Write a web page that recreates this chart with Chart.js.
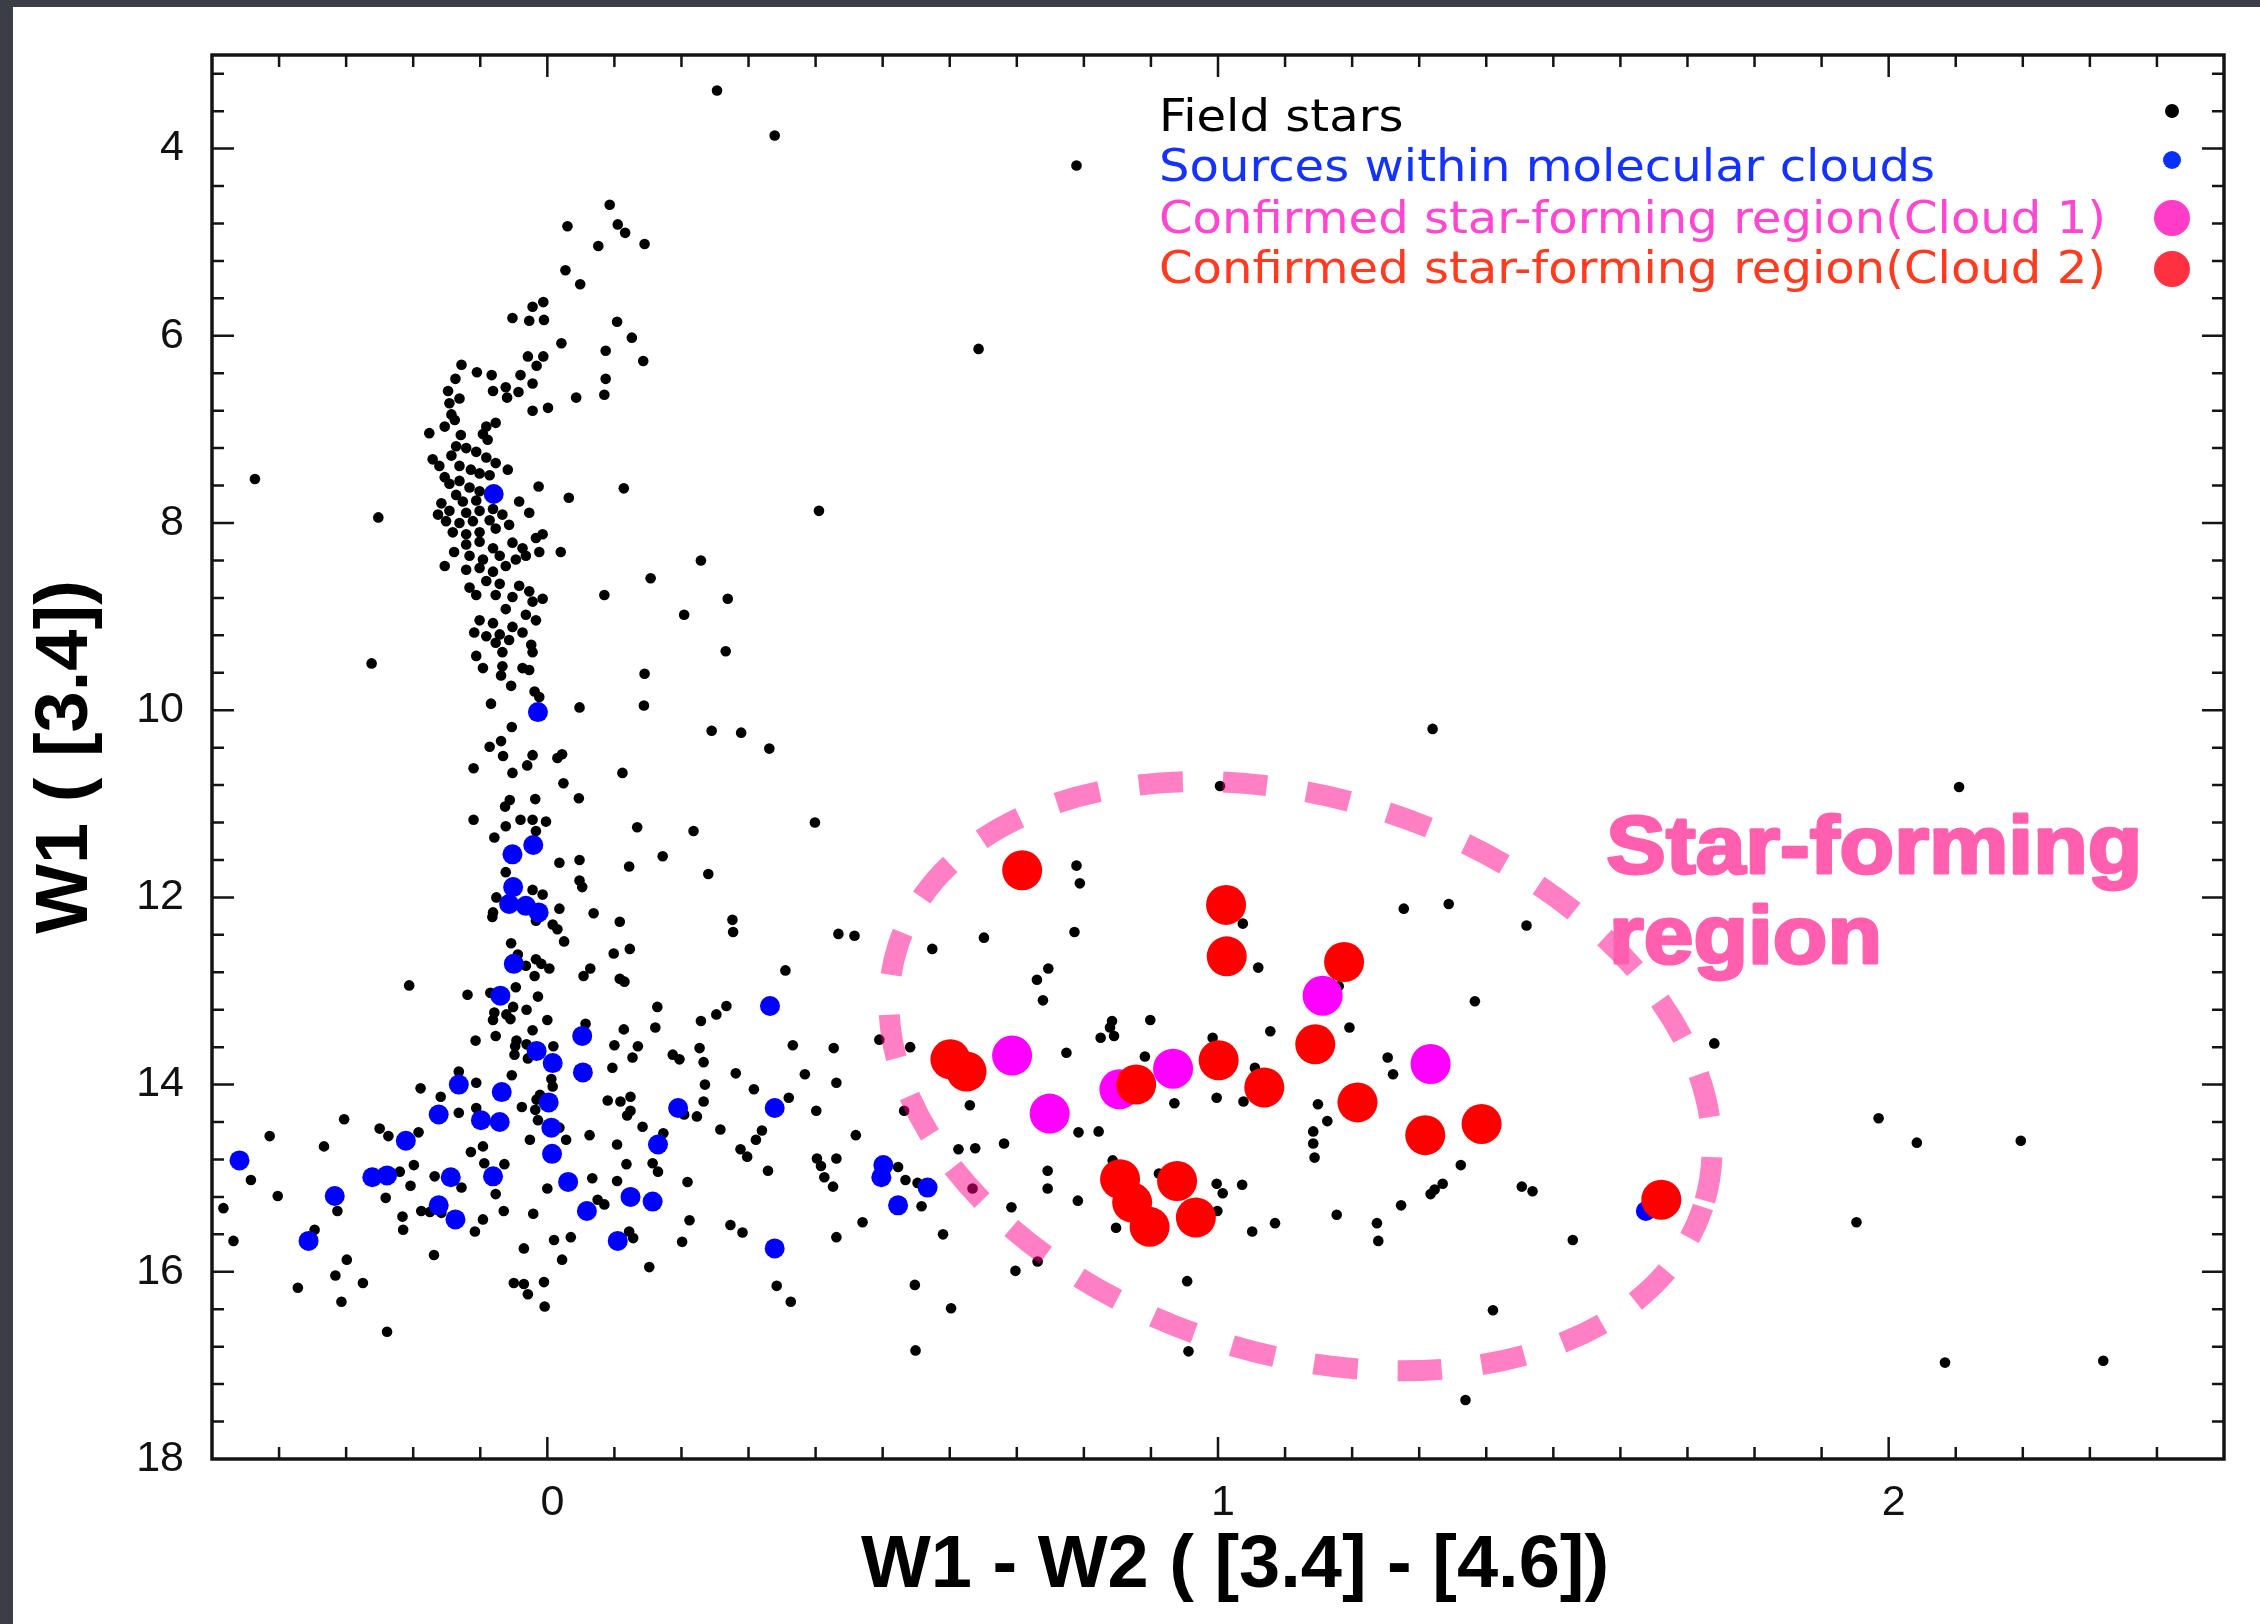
<!DOCTYPE html>
<html>
<head>
<meta charset="utf-8">
<title>WISE colour-magnitude diagram</title>
<script src="https://cdn.jsdelivr.net/npm/chart.js@4.4.1/dist/chart.umd.min.js"></script>
<style>
  html, body { margin: 0; padding: 0; background: #3b3e47; overflow: hidden; }
  canvas { display: block; }
</style>
</head>
<body>
<canvas id="cmd" width="2260" height="1624"></canvas>
<script>
// ---- axis ranges and tick labels ----
const xRange = [-0.5, 2.5];
const yRange = [3, 18];
const xTickValues = [0, 1, 2];
const yTickValues = [4, 6, 8, 10, 12, 14, 16, 18];
const xTitle = 'W1 - W2 ( [3.4] - [4.6])';
const yTitle = 'W1 ( [3.4])';

// ---- series: [W1 - W2, W1] ----
const fieldStars = [
  [0.093,4.60],[0.030,4.83],[0.105,4.81],[0.116,4.90],[0.076,5.04],[0.145,5.02],[0.027,5.30],[0.049,5.45],
  [-0.022,5.69],[-0.006,5.64],[-0.052,5.81],[-0.027,5.84],[-0.005,5.83],[0.104,5.85],[0.126,6.02],[0.021,6.08],
  [0.087,6.16],[0.143,6.27],[-0.029,6.22],[-0.006,6.22],[-0.016,6.32],[-0.128,6.31],[-0.137,6.46],[-0.105,6.39],
  [-0.083,6.42],[-0.040,6.42],[-0.022,6.51],[0.087,6.46],[-0.081,6.59],[-0.062,6.55],[-0.060,6.66],[-0.043,6.60],
  [-0.148,6.59],[-0.131,6.67],[0.043,6.66],[0.085,6.63],[-0.022,6.80],[0.001,6.77],[-0.146,6.72],[-0.143,6.84],
  [-0.138,6.90],[-0.153,6.97],[-0.176,7.04],[-0.129,7.06],[-0.091,6.97],[-0.077,6.93],[-0.096,7.05],[-0.089,7.11],
  [-0.136,7.18],[-0.121,7.20],[-0.106,7.24],[-0.143,7.28],[-0.091,7.30],[-0.077,7.36],[-0.059,7.43],[-0.171,7.32],
  [-0.161,7.39],[-0.131,7.39],[-0.114,7.43],[-0.101,7.47],[-0.086,7.49],[-0.153,7.51],[-0.131,7.55],[-0.146,7.58],
  [-0.116,7.62],[-0.101,7.66],[-0.136,7.70],[-0.158,7.79],[-0.126,7.77],[-0.106,7.76],[-0.163,7.91],[-0.146,7.87],
  [-0.121,7.89],[-0.101,7.87],[-0.081,7.85],[-0.067,7.91],[-0.151,7.98],[-0.131,8.00],[-0.111,7.98],[-0.086,7.97],
  [-0.057,8.02],[-0.141,8.10],[-0.121,8.12],[-0.101,8.10],[-0.077,8.06],[-0.042,7.77],[-0.027,7.89],[-0.013,7.61],
  [0.032,7.73],[0.114,7.63],
  [-0.121,8.23],[-0.101,8.20],[-0.081,8.27],[-0.052,8.21],[-0.037,8.27],[-0.017,8.16],[-0.007,8.12],[-0.012,8.31],
  [0.020,8.31],[-0.139,8.31],[-0.116,8.35],[-0.096,8.39],[-0.071,8.35],[-0.047,8.39],[-0.032,8.35],[-0.153,8.46],
  [-0.121,8.50],[-0.101,8.48],[-0.081,8.52],[-0.062,8.46],[-0.116,8.69],[-0.091,8.62],[-0.071,8.65],[-0.042,8.67],
  [-0.027,8.73],[-0.007,8.81],[-0.106,8.77],[-0.077,8.77],[-0.052,8.79],[-0.022,8.84],[-0.062,8.92],[-0.032,8.98],
  [-0.017,9.04],[-0.101,9.04],[-0.081,9.07],[-0.052,9.11],[-0.109,9.17],[-0.091,9.21],[-0.071,9.19],[-0.057,9.25],
  [-0.037,9.17],[-0.077,9.28],[-0.067,9.38],[-0.024,9.30],[-0.022,9.38],[-0.106,9.42],[-0.096,9.55],[-0.067,9.53],
  [-0.069,9.63],[-0.054,9.74],[-0.037,9.55],[-0.027,9.57],[-0.019,9.80],[-0.012,9.86],[-0.084,9.93],[0.048,9.97],
  [0.144,9.95],[0.145,9.61],[0.085,8.77],[0.154,8.59],[0.229,8.40],[0.269,8.81],[0.204,8.98],[0.266,9.37],
  [-0.252,7.94],
  [-0.053,10.18],[-0.086,10.39],[-0.069,10.33],[-0.066,10.49],[-0.022,10.48],[-0.110,10.62],[-0.052,10.67],[-0.030,10.59],
  [0.015,10.51],[0.022,10.47],[0.024,10.78],[0.047,10.94],[0.112,10.67],[0.245,10.22],[0.289,10.24],[0.331,10.41],
  [-0.063,11.03],[-0.056,10.96],[-0.018,10.95],[-0.110,11.17],[-0.062,11.24],[-0.040,11.17],[-0.022,11.17],[-0.002,11.19],
  [-0.017,11.29],[-0.079,11.36],[0.134,11.25],[0.218,11.29],[0.172,11.56],[0.122,11.67],[0.240,11.75],[0.018,11.63],
  [0.048,11.60],[-0.062,11.73],[0.048,11.82],[0.052,11.89],[-0.076,12.00],[-0.022,11.92],[-0.007,11.97],[-0.081,12.16],
  [-0.082,12.21],[0.018,12.12],[0.069,12.17],[0.108,12.26],[-0.017,12.25],[0.008,12.29],[0.015,12.34],[0.025,12.47],
  [0.276,12.24],[0.277,12.37],[-0.054,12.49],[-0.044,12.61],[-0.017,12.66],[-0.009,12.71],[0.003,12.76],[-0.032,12.73],
  [-0.019,12.84],[0.099,12.60],[0.123,12.55],[0.064,12.76],[0.054,12.84],[0.108,12.87],[0.115,12.90],[-0.206,12.94],
  [-0.119,13.04],[-0.047,12.96],[-0.014,13.06],[-0.085,13.02],
  [0.281,13.88],[0.308,14.05],[0.320,14.49],[0.311,14.59],[0.288,14.69],[0.298,14.77],[0.329,14.92],
  [-0.051,13.17],[-0.031,13.20],[-0.079,13.23],[-0.081,13.31],[-0.061,13.25],[-0.055,13.30],[0.000,13.31],[0.164,13.17],
  [0.252,13.25],[0.267,13.16],[0.229,13.32],[-0.022,13.42],[0.057,13.35],[0.161,13.39],[0.114,13.41],[-0.107,13.53],
  [-0.077,13.48],[-0.046,13.53],[-0.048,13.59],[-0.049,13.68],[-0.031,13.57],[-0.029,13.72],[0.009,13.59],[0.100,13.58],
  [0.135,13.59],[0.227,13.61],[0.127,13.71],[0.187,13.68],[0.197,13.73],[0.233,13.76],[0.097,13.82],[-0.132,13.86],
  [-0.053,13.90],[-0.106,13.98],[-0.189,14.04],[-0.159,14.13],[0.006,13.94],[0.008,14.02],[-0.011,14.11],[-0.016,14.16],
  [0.090,14.17],[0.109,14.18],[0.124,14.13],[0.235,14.00],[0.233,14.18],[-0.038,14.24],[-0.018,14.27],[-0.014,14.38],
  [-0.106,14.25],[-0.132,14.30],[0.124,14.28],[0.119,14.33],[0.223,14.34],[0.204,14.32],[0.142,14.45],[0.258,14.48],
  [0.018,14.46],[0.028,14.59],[0.063,14.54],[-0.026,14.59],[0.104,14.64],[0.173,14.52],[-0.303,14.37],[-0.414,14.55],
  [-0.333,14.66],[-0.250,14.47],[-0.237,14.55],[-0.192,14.51],[-0.096,14.66],[-0.114,14.72],[-0.094,14.84],[-0.064,14.85],
  [-0.199,14.86],[-0.442,15.02],[-0.402,15.19],[-0.220,14.93],[-0.204,15.08],[-0.168,14.98],[-0.128,15.10],[-0.241,15.21],
  [-0.077,15.17],[0.000,15.11],[0.067,15.00],[0.104,15.03],[0.118,14.85],[0.157,14.84],[0.165,14.93],[0.209,15.04],
  [0.075,15.23],[0.085,15.28],[-0.483,15.32],[-0.313,15.35],[-0.216,15.41],[-0.215,15.55],[-0.188,15.35],[-0.175,15.36],
  [-0.158,15.37],[-0.096,15.44],[-0.065,15.35],[-0.021,15.38],[-0.108,15.57],[0.212,15.45],[0.122,15.57],[0.128,15.64],
  [0.035,15.63],[0.010,15.66],[0.201,15.68],[0.273,15.50],[-0.347,15.55],[-0.468,15.67],[-0.299,15.87],[-0.169,15.82],
  [-0.035,15.75],[0.022,15.87],[0.152,15.95],[-0.316,16.04],[-0.372,16.17],[-0.275,16.12],[-0.307,16.32],[-0.050,16.12],
  [-0.035,16.13],[-0.029,16.24],[-0.005,16.11],[-0.004,16.37],[-0.239,16.64],
  [0.355,12.78],[0.434,12.39],[0.458,12.41],[0.574,12.55],[0.651,12.43],[0.786,12.37],[0.747,12.76],[0.730,12.88],
  [0.739,13.10],[0.366,13.58],[0.427,13.61],[0.495,13.52],[0.541,13.60],[0.384,13.89],[0.431,13.98],[0.360,14.14],
  [0.401,14.28],[0.532,14.28],[0.630,14.22],[0.842,13.32],[0.839,13.39],[0.825,13.50],[0.845,13.48],[0.899,13.31],
  [0.774,13.66],[0.891,13.70],[0.935,14.20],[0.792,14.51],[0.822,14.50],[0.460,14.54],[0.402,14.79],[0.408,14.87],
  [0.431,14.79],[0.413,14.99],[0.426,15.09],[0.523,14.88],[0.534,15.02],[0.552,15.05],[0.558,15.30],[0.613,14.69],
  [0.638,14.68],[0.681,14.63],[0.634,15.11],[0.692,15.31],[0.746,14.92],[0.746,15.11],[0.791,15.24],[0.843,14.81],
  [0.848,15.53],[0.912,14.95],[0.470,15.47],[0.431,15.63],[0.590,15.60],[0.731,15.89],[0.698,15.99],[0.548,16.14],
  [0.602,16.39],[0.954,16.10],[0.549,16.84],[0.956,16.85],[0.342,16.15],[0.363,16.32],[0.291,15.58],
  [1.003,10.81],[1.277,12.12],[1.344,12.07],[1.460,12.30],[1.037,12.28],[1.060,12.75],[1.180,12.95],[1.383,13.11],
  [1.078,13.43],[1.196,13.39],[0.992,13.50],[1.055,13.82],[1.253,13.71],[1.261,13.89],[0.998,14.14],[1.038,14.18],
  [1.149,14.21],[1.163,14.39],[1.142,14.50],[1.142,14.63],[1.144,14.78],[1.362,14.86],[0.998,15.06],[1.007,15.16],
  [1.036,15.07],[0.999,15.35],[1.085,15.48],[1.051,15.57],[1.177,15.39],[1.237,15.48],[1.239,15.67],[1.273,15.29],
  [1.317,15.17],[1.335,15.06],[1.323,15.12],[1.453,15.09],[1.469,15.14],[1.529,15.66],
  [2.105,10.82],[1.740,13.56],[1.985,14.36],[2.042,14.62],[2.197,14.60],[1.952,15.47],[2.084,16.97],[2.320,16.95],
  [0.253,3.38],[0.339,3.86],[0.789,4.18],[0.643,6.14],[0.405,7.87],[-0.436,7.53],[-0.262,9.50],[0.399,11.20],
  [0.789,11.66],[0.794,11.85],[1.320,10.20],[1.369,17.37],[1.410,16.41]
];

const cloudSources = [
  [-0.080,7.69],[-0.014,10.02],
  [-0.052,11.54],[-0.021,11.44],[-0.051,11.89],[-0.057,12.07],[-0.032,12.09],[-0.013,12.16],[-0.050,12.71],[-0.070,13.05],
  [0.332,13.16],[0.339,14.25],
  [-0.459,14.81],[-0.356,15.67],[-0.317,15.19],[-0.261,14.99],[-0.239,14.97],[-0.211,14.60],[-0.162,14.32],[-0.132,14.00],
  [-0.144,14.99],[-0.162,15.29],[-0.137,15.44],[-0.099,14.38],[-0.071,14.40],[-0.068,14.08],[-0.081,14.98],[-0.016,13.64],
  [0.008,13.77],[0.002,14.19],[0.006,14.46],[0.007,14.74],[0.052,13.48],[0.053,13.87],[0.031,15.04],[0.059,15.35],
  [0.105,15.67],[0.124,15.20],[0.157,15.25],[0.165,14.64],[0.195,14.25],
  [0.339,15.75],[0.501,14.86],[0.498,14.99],[0.567,15.10],[0.523,15.29],
  [1.638,15.35]
];

const cloud1StarForming = [
  [0.693,13.69],[0.749,14.31],[0.853,14.05],[0.933,13.83],[1.156,13.05],[1.317,13.78]
];

const cloud2StarForming = [
  [0.601,13.73],[0.625,13.86],[0.878,14.00],[0.854,15.01],[0.872,15.26],[0.898,15.52],[0.939,15.03],[0.967,15.42],
  [1.012,12.08],[1.013,12.63],[1.188,12.69],[1.145,13.57],[1.001,13.74],[1.069,14.03],[1.208,14.19],[1.309,14.54],
  [1.393,14.42],[1.661,15.23],[0.708,11.71]
];

// ---- legend and annotation text ----
const legendLabels = [
  'Field stars',
  'Sources within molecular clouds',
  'Confirmed star-forming region(Cloud 1)',
  'Confirmed star-forming region(Cloud 2)'
];
const legendTextColors = ['#000000', '#1432ff', '#ff46d2', '#ff3a1e'];
const legendMarkerColors = ['#000000', '#0a30ff', '#ff3cc8', '#ff3040'];
const legendMarkerRadii = [7, 9, 18, 18];

const regionLabel = ['Star-forming', 'region'];
const regionLabelAnchors = [[1.579, 11.74], [1.583, 12.70]];   // left / baseline, data units
const regionOutline = { center: [1.123, 13.91], semiMajor: 0.631, semiMinor: 0.414, tiltDeg: 18 }; // radii in x-axis units

const toPoints = arr => arr.map(([x, y]) => ({ x, y }));

const sansFamily = '"Liberation Sans", Arial, sans-serif';

// Page background, dashed outline, label, frame with inward ticks, x title, legend
const cmdDecor = {
  id: 'cmdDecor',
  beforeDraw(chart) {
    const { ctx, width, height } = chart;
    ctx.save();
    ctx.fillStyle = '#3b3e47';
    ctx.fillRect(0, 0, width, height);
    ctx.fillStyle = '#ffffff';
    ctx.fillRect(13, 7, width - 13, height - 7);
    ctx.restore();
  },
  afterDatasetsDraw(chart) {
    const { ctx, chartArea: a, scales: { x, y } } = chart;
    const unit = Math.abs(x.getPixelForValue(1) - x.getPixelForValue(0));

    // dashed outline of the star-forming region
    ctx.save();
    ctx.beginPath();
    ctx.ellipse(
      x.getPixelForValue(regionOutline.center[0]),
      y.getPixelForValue(regionOutline.center[1]),
      regionOutline.semiMajor * unit,
      regionOutline.semiMinor * unit,
      regionOutline.tiltDeg * Math.PI / 180, 0, Math.PI * 2);
    ctx.setLineDash([44, 40]);
    ctx.lineDashOffset = 10;
    ctx.lineWidth = 21;
    ctx.strokeStyle = 'rgba(255, 0, 140, 0.5)';
    ctx.stroke();
    ctx.restore();

    // region label (heavy weight: fill plus a thin stroke of the same colour)
    ctx.save();
    ctx.font = 'bold 81px ' + sansFamily;
    ctx.fillStyle = '#ff5fae';
    ctx.strokeStyle = '#ff5fae';
    ctx.lineWidth = 3;
    ctx.lineJoin = 'round';
    ctx.textBaseline = 'alphabetic';
    ctx.textAlign = 'left';
    const stretch = 536 / ctx.measureText(regionLabel[0]).width;
    regionLabel.forEach((t, i) => {
      ctx.save();
      ctx.translate(x.getPixelForValue(regionLabelAnchors[i][0]), y.getPixelForValue(regionLabelAnchors[i][1]));
      ctx.scale(stretch, 1);
      ctx.fillText(t, 0, 0);
      ctx.strokeText(t, 0, 0);
      ctx.restore();
    });
    ctx.restore();

    // frame and inward tick marks on all four sides
    ctx.save();
    ctx.strokeStyle = '#141414';
    ctx.lineCap = 'butt';
    ctx.lineWidth = 2.5;
    ctx.beginPath();
    for (let i = -4; i <= 24; i++) {
      const px = x.getPixelForValue(i / 10);
      const len = (i % 10 === 0) ? 22 : 12;
      ctx.moveTo(px, a.bottom); ctx.lineTo(px, a.bottom - len);
      ctx.moveTo(px, a.top); ctx.lineTo(px, a.top + len);
    }
    for (let i = 8; i <= 44; i++) {
      const py = y.getPixelForValue(i * 0.4);
      const len = (i % 5 === 0) ? 22 : 12;
      ctx.moveTo(a.left, py); ctx.lineTo(a.left + len, py);
      ctx.moveTo(a.right, py); ctx.lineTo(a.right - len, py);
    }
    ctx.stroke();
    ctx.lineWidth = 3.5;
    ctx.strokeRect(a.left, a.top, a.right - a.left, a.bottom - a.top);
    ctx.restore();
  },
  afterDraw(chart) {
    const { ctx, chartArea: a } = chart;

    // x-axis title, placed a little right of the plot centre
    ctx.save();
    ctx.font = 'bold 74px ' + sansFamily;
    ctx.fillStyle = '#000000';
    ctx.textAlign = 'center';
    ctx.textBaseline = 'alphabetic';
    ctx.fillText(xTitle, (a.left + a.right) / 2 + 17, a.bottom + 128);
    ctx.restore();

    // legend: coloured labels on the left, markers at the right edge
    const textLeft = 1159;
    const baselines = [131, 181, 233, 283];
    const markerX = 2172;
    const markerY = [111, 160, 218, 269];
    ctx.save();
    ctx.font = '45px "DejaVu Sans", sans-serif';
    ctx.textBaseline = 'alphabetic';
    ctx.textAlign = 'left';
    const stretch = 947 / ctx.measureText(legendLabels[2]).width;
    legendLabels.forEach((t, i) => {
      ctx.save();
      ctx.translate(textLeft, baselines[i]);
      ctx.scale(stretch, 1);
      ctx.fillStyle = legendTextColors[i];
      ctx.fillText(t, 0, 0);
      ctx.restore();
      ctx.beginPath();
      ctx.arc(markerX, markerY[i], legendMarkerRadii[i], 0, Math.PI * 2);
      ctx.fillStyle = legendMarkerColors[i];
      ctx.fill();
    });
    ctx.restore();
  }
};

const axisFont = { family: sansFamily, size: 43 };
const titleFont = { family: sansFamily, size: 74, weight: 'bold', lineHeight: 1.2 };

new Chart(document.getElementById('cmd'), {
  type: 'scatter',
  data: {
    datasets: [
      { label: legendLabels[3], data: toPoints(cloud2StarForming), backgroundColor: '#ff0000', pointRadius: 20, pointBorderWidth: 0, order: 0 },
      { label: legendLabels[2], data: toPoints(cloud1StarForming), backgroundColor: '#ff00ff', pointRadius: 20, pointBorderWidth: 0, order: 1 },
      { label: legendLabels[1], data: toPoints(cloudSources), backgroundColor: '#0000ff', pointRadius: 10, pointBorderWidth: 0, order: 2 },
      { label: legendLabels[0], data: toPoints(fieldStars), backgroundColor: '#000000', pointRadius: 5.3, pointBorderWidth: 0, order: 3 }
    ]
  },
  options: {
    responsive: false,
    maintainAspectRatio: false,
    devicePixelRatio: 1,
    animation: false,
    events: [],
    layout: { padding: { top: 55, right: 36, left: 0, bottom: 0 } },
    plugins: { legend: { display: false }, tooltip: { enabled: false } },
    scales: {
      x: {
        type: 'linear',
        min: xRange[0], max: xRange[1],
        grid: { display: false, drawTicks: false },
        border: { display: false },
        afterBuildTicks: s => { s.ticks = xTickValues.map(v => ({ value: v })); },
        afterFit: s => { s.height = 165; },
        ticks: { font: axisFont, color: '#111111', padding: 18, labelOffset: 5, maxRotation: 0, autoSkip: false },
        title: { display: false }
      },
      y: {
        type: 'linear',
        reverse: true,
        min: yRange[0], max: yRange[1],
        grid: { display: false, drawTicks: false },
        border: { display: false },
        afterBuildTicks: s => { s.ticks = yTickValues.map(v => ({ value: v })); },
        afterFit: s => { s.width = 212; },
        ticks: { font: axisFont, color: '#111111', padding: 28, autoSkip: false },
        title: { display: true, text: yTitle, font: titleFont, color: '#000000', padding: { top: 22, bottom: 0 } }
      }
    }
  },
  plugins: [cmdDecor]
});
</script>
</body>
</html>
